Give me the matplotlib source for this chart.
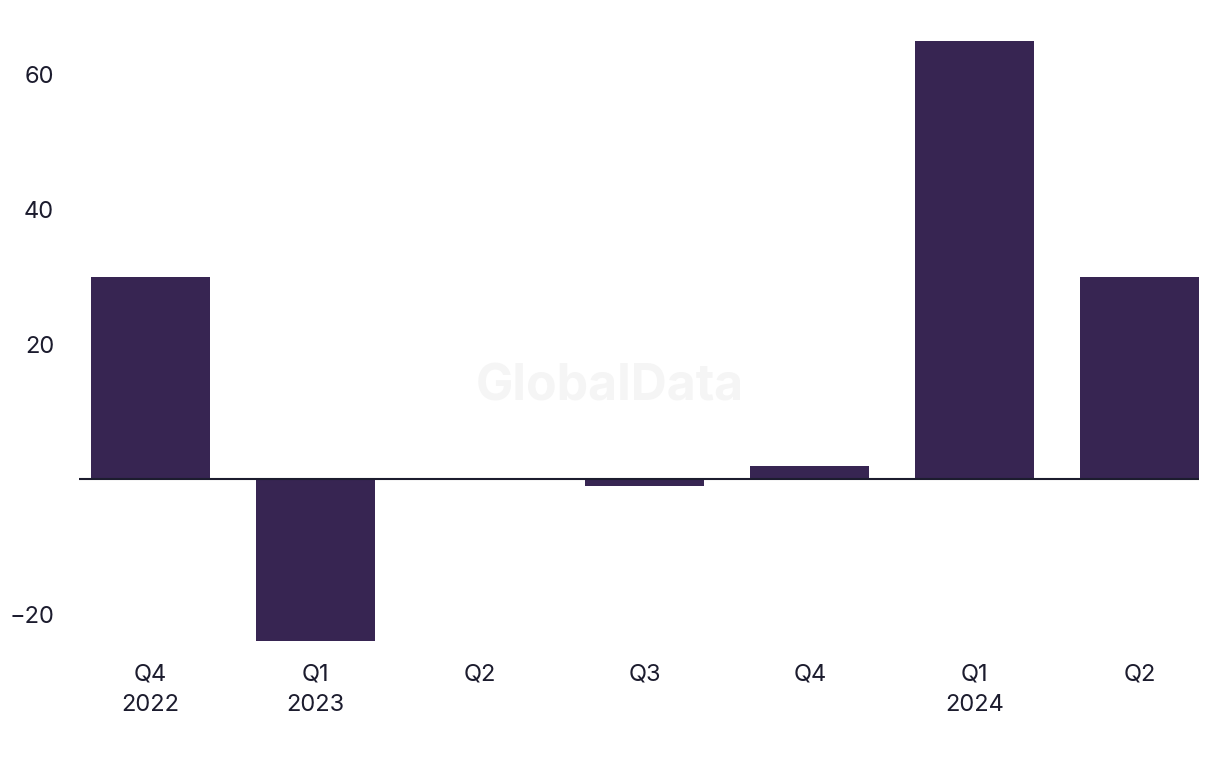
import matplotlib.pyplot as plt

# Quarterly values
quarters = ["Q4\n2022", "Q1\n2023", "Q2", "Q3", "Q4", "Q1\n2024", "Q2"]
values = [30, -24, 0, -1, 2, 65, 30]
y_ticks = [-20, 20, 40, 60]

bar_color = "#372552"
text_color = "#1c1c2e"

plt.rcParams["font.family"] = ["Inter", "DejaVu Sans"]

fig = plt.figure(figsize=(12.2, 7.68), dpi=100)
ax = fig.add_axes([0.0648, 0.1566, 0.918, 0.7984])

# watermark
fig.text(0.5, 0.496, "GlobalData", ha="center", va="center", fontsize=36,
         fontweight="bold", color="#f5f5f5", zorder=0)

x = range(len(values))
ax.bar(x, values, width=0.722, color=bar_color, zorder=2)
ax.axhline(0, color=text_color, lw=1.5, zorder=3)

ax.set_xlim(-0.434, 6.362)
ax.set_ylim(-25, 66)
ax.set_xticks(list(x))
ax.set_xticklabels(quarters, linespacing=1.55)
ax.set_yticks(y_ticks)
ax.set_yticklabels([str(v).replace("-", "\u2212") for v in y_ticks])

ax.tick_params(axis="both", length=0, labelsize=17, colors=text_color)
ax.tick_params(axis="y", pad=18)
ax.tick_params(axis="x", pad=11)
for s in ax.spines.values():
    s.set_visible(False)
ax.patch.set_alpha(0)

fig.savefig("out.png", dpi=100)
